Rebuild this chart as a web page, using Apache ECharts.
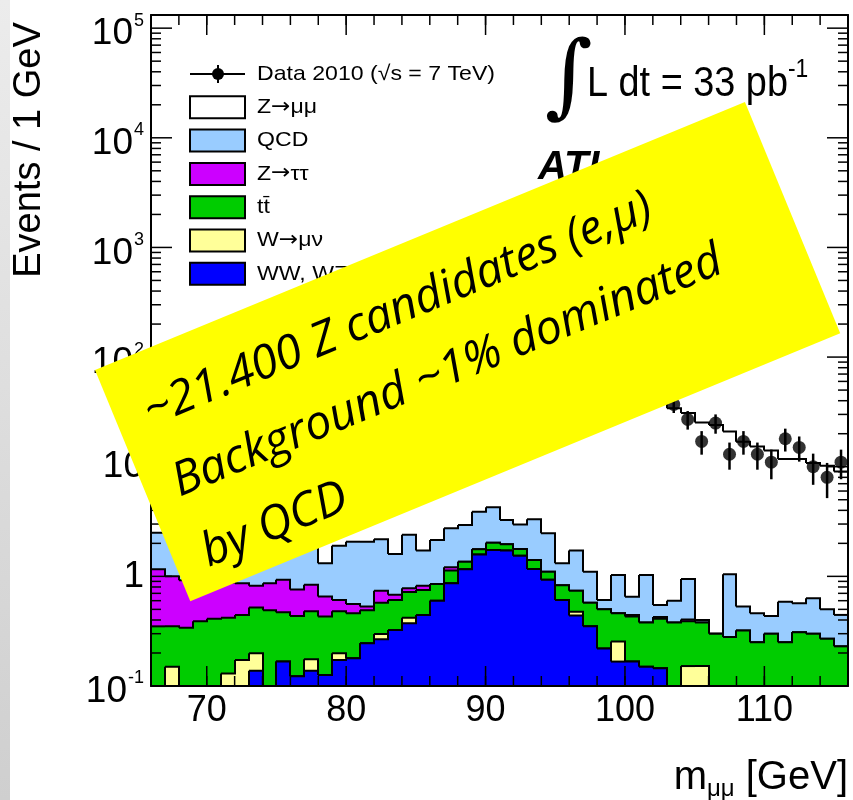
<!DOCTYPE html>
<html>
<head>
<meta charset="utf-8">
<title>Z → μμ invariant mass</title>
<script src="https://cdn.jsdelivr.net/npm/echarts@6/dist/echarts.min.js"></script>
<style>
  html, body { margin: 0; padding: 0; background: #ffffff; }
  #chart { width: 853px; height: 800px; }
</style>
</head>
<body>
<div id="chart"></div>
<script>
// Lower edges of the 1 GeV mass bins [GeV]
const massBins = [66, 67, 68, 69, 70, 71, 72, 73, 74, 75, 76, 77, 78, 79, 80, 81, 82, 83, 84, 85,
                  86, 87, 88, 89, 90, 91, 92, 93, 94, 95, 96, 97, 98, 99, 100, 101, 102, 103, 104, 105,
                  106, 107, 108, 109, 110, 111, 112, 113, 114, 115];

// Observed events per bin (Data 2010)
const dataCounts = [12, 16, 13, 18, 17, 22, 20, 26, 25, 33, 36, 38, 49, 52, 67, 74, 98, 117, 161, 204,
                    312, 438, 716, 1228, 1761, 1634, 1139, 641, 352, 226, 133, 101, 66, 58, 43, 44, 45, 37, 27, 17,
                    25, 13, 17, 13, 11, 18, 15, 10, 8, 11];

// Expected events per bin for each process
const dibosons = [0, 0, 0, 0, 0, 0, 0, 0.138, 0, 0.167, 0.123, 0.138, 0.126, 0.173, 0.179, 0.245, 0.267, 0.324, 0.373, 0.445,
                  0.60, 0.865, 1.16, 1.58, 1.74, 1.72, 1.54, 1.17, 0.93, 0.61, 0.44, 0.35, 0.22, 0.167, 0.167, 0.15, 0.145, 0, 0, 0,
                  0, 0, 0, 0, 0, 0, 0, 0, 0, 0];
const wmunu = [0, 0.15, 0, 0, 0, 0.13, 0.173, 0.061, 0, 0, 0, 0.037, 0, 0.026, 0, 0, 0.031, 0, 0.047, 0,
               0, 0, 0, 0, 0, 0, 0, 0, 0, 0, 0.036, 0, 0, 0.087, 0, 0, 0, 0, 0.152, 0.152,
               0, 0, 0, 0, 0, 0, 0, 0, 0, 0];
const ttbar = [0.35, 0.20, 0.34, 0.39, 0.41, 0.29, 0.272, 0.321, 0.49, 0.303, 0.312, 0.305, 0.304, 0.281, 0.281, 0.245, 0.277, 0.286, 0.30, 0.305,
               0.25, 0.265, 0.20, 0.19, 0.29, 0.24, 0.24, 0.24, 0.17, 0.22, 0.264, 0.225, 0.28, 0.206, 0.263, 0.23, 0.265, 0.38, 0.238, 0.228,
               0.30, 0.28, 0.32, 0.25, 0.30, 0.25, 0.31, 0.30, 0.27, 0.23];
const ztautau = [0.81, 0.65, 0.58, 0.51, 0.49, 0.46, 0.42, 0.30, 0.375, 0.46, 0.325, 0.36, 0.225, 0.13, 0.10, 0.04, 0.165, 0.07, 0.06, 0.07,
                 0, 0.08, 0, 0, 0, 0, 0, 0, 0, 0, 0, 0, 0, 0, 0.015, 0, 0.015, 0, 0.015, 0,
                 0, 0, 0, 0, 0, 0, 0, 0, 0, 0];
const qcd = [1.34, 1.40, 1.08, 1.50, 1.00, 1.42, 1.235, 0.98, 1.335, 1.07, 1.14, 1.46, 0.665, 1.29, 1.51, 1.54, 1.44, 0.92, 1.61, 0.90,
             1.30, 1.54, 1.58, 2.12, 2.24, 1.31, 1.19, 1.91, 1.37, 0.49, 0.98, 0.525, 0.11, 0.57, 0.205, 0.65, 0.123, 0.22, 0.541, 0.02,
             0, 0.765, 0.21, 0.21, 0.135, 0.337, 0.258, 0.33, 0.23, 0.215];
const zmumu = [10.5, 11.6, 13.0, 14.1, 16.1, 17.7, 19.9, 22.7, 25.3, 29.0, 33.1, 37.7, 44.7, 52.1, 61.9, 74.9, 92.8, 118.4, 152.6, 208.3,
               297.9, 447.3, 697.1, 1146.1, 1695.7, 1596.7, 1097.0, 636.7, 357.5, 213.7, 138.3, 93.9, 69.4, 55.0, 46.4, 41.0, 39.5, 33.6, 29.9, 24.9,
               23.7, 19.9, 16.4, 14.8, 13.6, 11.2, 11.2, 10.2, 9.7, 8.6];

// Axis ticks and labels
const xLabelValues = [70, 80, 90, 100, 110];
const xMinorTicks = [66, 68, 70, 72, 74, 76, 78, 80, 82, 84, 86, 88, 90, 92, 94, 96, 98, 100,
                     102, 104, 106, 108, 110, 112, 114, 116];
const yDecades = [0.1, 1, 10, 100, 1000, 10000, 100000];
const yMinorSteps = [2, 3, 4, 5, 6, 7, 8, 9];

// Legend and annotation texts
const legendData = 'Data 2010 (\u221As = 7 TeV)';
const lumiText = 'L dt = 33 pb';
const experimentLabel = 'ATLAS';
const noteLines = ['~21.400 Z candidates (e,\u03bc)', 'Background ~1% dominated', 'by QCD'];

const X_MIN = 66, X_MAX = 116, Y_MIN = 0.1, Y_MAX = 131826;

// Stack, from the bottom layer up
const layers = [
  { name: 'WW, WZ, ZZ', values: dibosons, color: '#0000ff' },
  { name: 'W\u2192\u03bc\u03bd', values: wmunu, color: '#ffff99' },
  { name: 'tt\u0304', values: ttbar, color: '#00cc00' },
  { name: 'Z\u2192\u03c4\u03c4', values: ztautau, color: '#cc00ff' },
  { name: 'QCD', values: qcd, color: '#99ccff' },
  { name: 'Z\u2192\u03bc\u03bc', values: zmumu, color: '#ffffff' }
];
let running = massBins.map(() => 0);
layers.forEach(l => {
  running = running.map((s, i) => s + l.values[i]);
  l.cum = running.slice();
});

const FONT = '"Liberation Sans", Arial, Helvetica, sans-serif';

// Use the narrow Helvetica-like face for the mass labels when it is installed
function hasFont(name) {
  const ctx = document.createElement('canvas').getContext('2d');
  const sample = '0123456789 mmm WWW';
  ctx.font = '40px monospace';
  const w1 = ctx.measureText(sample).width;
  ctx.font = '40px "' + name + '", monospace';
  const w2 = ctx.measureText(sample).width;
  return Math.abs(w1 - w2) > 0.5;
}
const narrow = hasFont('Liberation Sans Narrow');
const xLabelFont = narrow ? { fontFamily: '"Liberation Sans Narrow"', fontSize: 42 }
                          : { fontFamily: FONT, fontSize: 36 };

function layerRenderer(color) {
  return function (params, api) {
    const lo = api.value(0), top = api.value(1), next = api.value(2);
    const cs = params.coordSys;
    const bottom = cs.y + cs.height;
    const yOf = v => v > 0 ? Math.max(cs.y, Math.min(bottom, api.coord([lo, v])[1])) : bottom;
    const xl = Math.round(api.coord([lo, 1])[0]);
    const xr = Math.round(api.coord([lo + 1, 1])[0]);
    const yt = yOf(top), yn = yOf(next);
    return {
      type: 'group',
      children: [
        { type: 'rect', shape: { x: xl, y: yt, width: xr - xl, height: bottom - yt },
          style: { fill: color }, z2: 0 },
        { type: 'polyline', shape: { points: [[xl, yt], [xr, yt], [xr, yn]] },
          style: { stroke: '#000', lineWidth: 2, fill: null }, z2: 1 }
      ]
    };
  };
}

// Draw the highest cumulative layer first so the lower ones paint over it
const stackSeries = layers.slice().reverse().map((l, k) => ({
  type: 'custom',
  name: l.name,
  z: 2 + k,
  renderItem: layerRenderer(l.color),
  encode: { x: 0, y: 1 },
  data: massBins.map((lo, i) => [lo, l.cum[i], i + 1 < l.cum.length ? l.cum[i + 1] : l.cum[i]]),
  silent: true
}));

const errorSeries = {
  type: 'custom',
  name: 'Data errors',
  z: 10,
  encode: { x: 0, y: 1 },
  data: massBins.map((lo, i) => [lo + 0.5, dataCounts[i], Math.sqrt(dataCounts[i])]),
  renderItem: function (params, api) {
    const x = api.value(0), n = api.value(1), e = api.value(2);
    const cs = params.coordSys;
    const bottom = cs.y + cs.height;
    const p1 = api.coord([x, n + e]);
    const yLow = n - e > 0 ? Math.min(bottom, api.coord([x, n - e])[1]) : bottom;
    return { type: 'line', shape: { x1: p1[0], y1: Math.max(cs.y, p1[1]), x2: p1[0], y2: yLow },
             style: { stroke: '#000', lineWidth: 2.5 } };
  },
  silent: true
};

const dataSeries = {
  type: 'scatter',
  name: 'Data 2010',
  z: 11,
  symbol: 'circle',
  symbolSize: 13,
  itemStyle: { color: '#000' },
  data: massBins.map((lo, i) => [lo + 0.5, dataCounts[i]]),
  silent: true
};

// Tick marks on all four sides of the frame
const xTickData = xMinorTicks.map(v => [v, 1, 10]).concat(xLabelValues.map(v => [v, 1, 20]));
const yTickData = [];
yDecades.forEach(d => {
  yTickData.push([70, d, 21]);
  yMinorSteps.forEach(m => { if (d * m < Y_MAX) yTickData.push([70, d * m, 10]); });
});

const xTickSeries = {
  type: 'custom', z: 25, silent: true, encode: { x: 0, y: 1 }, data: xTickData,
  renderItem: function (params, api) {
    const cs = params.coordSys;
    const x = api.coord([api.value(0), 1])[0], len = api.value(2);
    const b = cs.y + cs.height;
    return { type: 'group', children: [
      { type: 'line', shape: { x1: x, y1: b, x2: x, y2: b - len }, style: { stroke: '#000', lineWidth: 1.5 } },
      { type: 'line', shape: { x1: x, y1: cs.y, x2: x, y2: cs.y + len }, style: { stroke: '#000', lineWidth: 1.5 } }
    ] };
  }
};
const yTickSeries = {
  type: 'custom', z: 25, silent: true, encode: { x: 0, y: 1 }, data: yTickData,
  renderItem: function (params, api) {
    const cs = params.coordSys;
    const y = api.coord([api.value(0), api.value(1)])[1], len = api.value(2);
    const r = cs.x + cs.width;
    return { type: 'group', children: [
      { type: 'line', shape: { x1: cs.x, y1: y, x2: cs.x + len, y2: y }, style: { stroke: '#000', lineWidth: 1.5 } },
      { type: 'line', shape: { x1: r, y1: y, x2: r - len, y2: y }, style: { stroke: '#000', lineWidth: 1.5 } }
    ] };
  }
};

const frameLine = { show: true, onZero: false, lineStyle: { color: '#000', width: 2 } };

// Legend entries: arrows are set in DejaVu Sans so they keep their full width
function legendRich(name) {
  const parts = name.split('\u2192');
  if (parts.length === 1) return '{t|' + name + '}';
  return '{t|' + parts[0] + '}{a|\u2192}{t|' + parts[1] + '}';
}
const legendTextRich = {
  t: { fontSize: 21, fontFamily: FONT, color: '#000' },
  a: { fontSize: 21, fontFamily: '"DejaVu Sans", sans-serif', color: '#000' }
};
const legendTop = 74, legendStep = 33.3;
const legendChildren = [
  { type: 'line', shape: { x1: 190, y1: legendTop, x2: 245, y2: legendTop }, style: { stroke: '#000', lineWidth: 2 } },
  { type: 'line', shape: { x1: 218, y1: legendTop - 9, x2: 218, y2: legendTop + 9 }, style: { stroke: '#000', lineWidth: 2 } },
  { type: 'circle', shape: { cx: 218, cy: legendTop, r: 6 }, style: { fill: '#000' } },
  { type: 'text', x: 257, y: legendTop, scaleX: 1.1,
    style: { text: legendRich(legendData), rich: legendTextRich, verticalAlign: 'middle' } }
];
layers.slice().reverse().forEach((l, k) => {
  const cy = legendTop + legendStep * (k + 1);
  legendChildren.push({ type: 'rect', shape: { x: 190, y: cy - 11, width: 55, height: 22 },
                        style: { fill: l.color, stroke: '#000', lineWidth: 2 } });
  legendChildren.push({ type: 'text', x: 257, y: cy, scaleX: 1.1,
                        style: { text: legendRich(l.name), rich: legendTextRich, verticalAlign: 'middle' } });
});

const noteAngle = Math.atan2(268, 650);
const noteFont = 'italic 47px "Open Sans", "Noto Sans", sans-serif';

const option = {
  backgroundColor: '#ffffff',
  animation: false,
  grid: { left: 151, top: 15, width: 697, height: 671 },
  xAxis: [
    { type: 'value', min: X_MIN, max: X_MAX, position: 'bottom', z: 30,
      axisLine: frameLine, axisTick: { show: false }, splitLine: { show: false },
      axisLabel: Object.assign({ customValues: xLabelValues, color: '#000', margin: 7 }, xLabelFont) },
    { type: 'value', min: X_MIN, max: X_MAX, position: 'top', z: 30,
      axisLine: frameLine, axisTick: { show: false }, splitLine: { show: false }, axisLabel: { show: false } }
  ],
  yAxis: [
    { type: 'log', logBase: 10, min: Y_MIN, max: Y_MAX, position: 'left', z: 30,
      axisLine: frameLine, axisTick: { show: false }, splitLine: { show: false },
      axisLabel: {
        showMaxLabel: false, margin: 7, color: '#000',
        formatter: function (v) {
          const e = Math.round(Math.log10(v));
          if (e === 0) return '{c|1}';
          if (e === 1) return '{c|10}';
          return '{b|10}{s|' + e + '}';
        },
        rich: {
          c: { fontSize: 37, fontFamily: FONT, color: '#000' },
          b: { fontSize: 37, fontFamily: FONT, color: '#000', padding: [12, 0, 0, 0] },
          s: { fontSize: 18, fontFamily: FONT, color: '#000', verticalAlign: 'top', padding: [8, 0, 0, 1] }
        }
      } },
    { type: 'log', logBase: 10, min: Y_MIN, max: Y_MAX, position: 'right', z: 30,
      axisLine: frameLine, axisTick: { show: false }, splitLine: { show: false }, axisLabel: { show: false } }
  ],
  series: stackSeries.concat([errorSeries, dataSeries, xTickSeries, yTickSeries]),
  graphic: { elements: [
    { type: 'rect', z: 50, shape: { x: 0, y: 0, width: 10, height: 800 },
      style: { fill: new echarts.graphic.LinearGradient(0, 0, 0, 1, [
        { offset: 0, color: '#ececec' }, { offset: 1, color: '#cfcfcf' }]) } },
    { type: 'text', z: 50, x: 30, y: 150, rotation: Math.PI / 2,
      style: { text: 'Events / 1 GeV', font: '38px ' + FONT, fill: '#000', align: 'center', verticalAlign: 'middle' } },
    { type: 'text', z: 50, x: 848, y: 778,
      style: { text: '{a|m}{s|\u03bc\u03bc}{a| [GeV]}', align: 'right', verticalAlign: 'middle',
               rich: { a: { fontSize: 40, fontFamily: FONT, color: '#000' },
                       s: { fontSize: 24, fontFamily: FONT, color: '#000', padding: [22, 0, 0, 0] } } } },
    { type: 'group', z: 50, children: legendChildren.map(c => Object.assign({ z: 50 }, c)) },
    { type: 'text', z: 50, x: 569, y: 82,
      style: { text: '\u222b', font: '92px "DejaVu Serif", serif', fill: '#000', align: 'center', verticalAlign: 'middle' } },
    { type: 'text', z: 50, x: 587, y: 84, scaleX: 0.88,
      style: { text: '{t|' + lumiText + '}{s|-1}', verticalAlign: 'middle',
               rich: { t: { fontSize: 43, fontFamily: FONT, color: '#000' },
                       s: { fontSize: 26, fontFamily: FONT, color: '#000', padding: [0, 0, 28, 0] } } } },
    { type: 'text', z: 50, x: 538, y: 168,
      style: { text: experimentLabel, font: 'italic bold 40px ' + FONT, fill: '#000', verticalAlign: 'middle' } },
    { type: 'group', z: 100, x: 95, y: 370, rotation: noteAngle,
      children: [
        { type: 'rect', z: 100, shape: { x: 0, y: 0, width: 703, height: 250 }, style: { fill: '#ffff00' } },
        { type: 'text', z: 100, z2: 1, x: 30, y: 60,
          style: { text: noteLines[0], font: noteFont, fill: '#000', verticalAlign: 'middle' } },
        { type: 'text', z: 100, z2: 1, x: 30, y: 136,
          style: { text: noteLines[1], font: noteFont, fill: '#000', verticalAlign: 'middle' } },
        { type: 'text', z: 100, z2: 1, x: 30, y: 212,
          style: { text: noteLines[2], font: noteFont, fill: '#000', verticalAlign: 'middle' } }
      ] }
  ] }
};

const chart = echarts.init(document.getElementById('chart'), null, { renderer: 'canvas' });
chart.setOption(option);
</script>
</body>
</html>
